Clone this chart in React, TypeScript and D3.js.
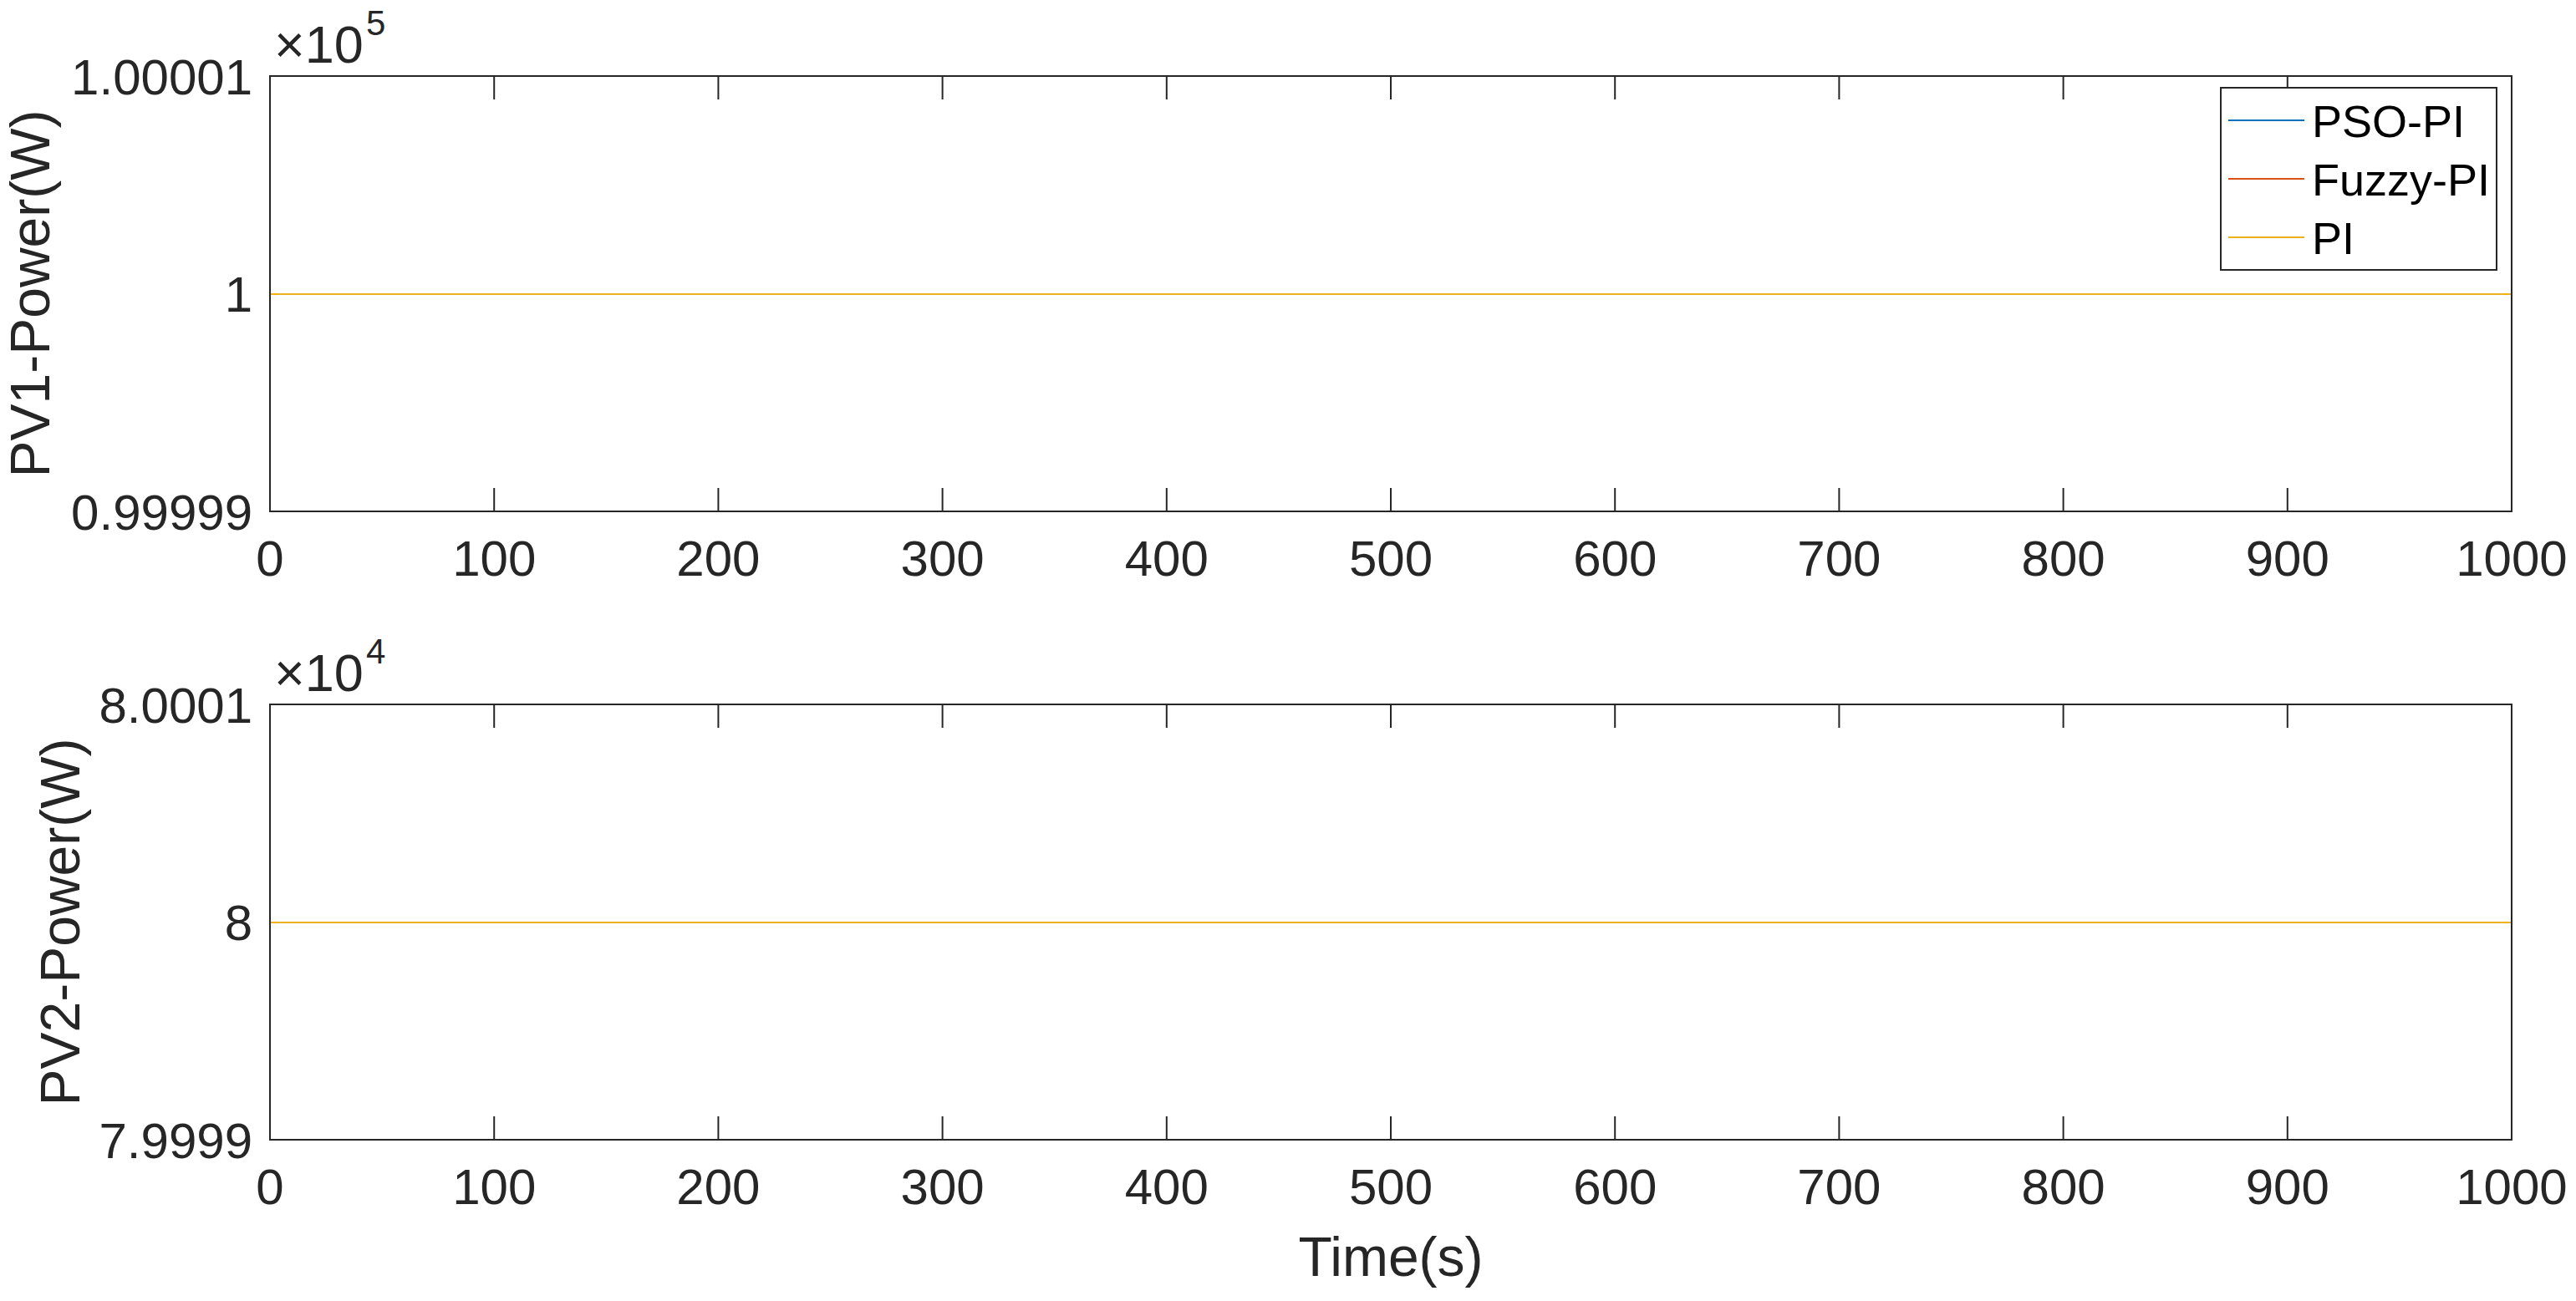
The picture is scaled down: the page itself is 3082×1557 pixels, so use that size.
import React from "react";
import * as d3 from "d3";

const timeS = [0, 1000];
const pv1PsoPi = [100000, 100000];
const pv1FuzzyPi = [100000, 100000];
const pv1Pi = [100000, 100000];
const pv2PsoPi = [80000, 80000];
const pv2FuzzyPi = [80000, 80000];
const pv2Pi = [80000, 80000];

const xTicks = [0, 100, 200, 300, 400, 500, 600, 700, 800, 900, 1000];
const pv1YTicks = [99999, 100000, 100001];
const pv1YTickLabels = ["0.99999", "1", "1.00001"];
const pv2YTicks = [79999, 80000, 80001];
const pv2YTickLabels = ["7.9999", "8", "8.0001"];

const seriesNames = ["PSO-PI", "Fuzzy-PI", "PI"];
const seriesColors = ["#0072BD", "#D95319", "#EDB120"];

const W = 3082;
const H = 1557;
const LEFT = 323;
const RIGHT = 3005;
const AX = "#262626";
const FONT = "'Liberation Sans', Arial, Helvetica, sans-serif";
const TICK_FS = 60;
const LABEL_FS = 66;
const TICK_LEN = 28;

type PanelProps = {
  top: number;
  bottom: number;
  yDomain: [number, number];
  yTicks: number[];
  yTickLabels: string[];
  series: number[][];
  ylabel: string;
  ylabelX: number;
  exponent: string;
  legend?: boolean;
};

function Panel(p: PanelProps) {
  const x = d3.scaleLinear().domain([0, 1000]).range([LEFT, RIGHT]);
  const y = d3.scaleLinear().domain(p.yDomain).range([p.bottom, p.top]);
  const line = d3
    .line<[number, number]>()
    .x((d) => x(d[0]))
    .y((d) => y(d[1]));
  const midY = (p.top + p.bottom) / 2;
  return (
    <g>
      {/* x ticks */}
      {xTicks.map((t) => (
        <g key={"xt" + t}>
          <line x1={x(t)} x2={x(t)} y1={p.bottom} y2={p.bottom - TICK_LEN} stroke={AX} strokeWidth={2} />
          <line x1={x(t)} x2={x(t)} y1={p.top} y2={p.top + TICK_LEN} stroke={AX} strokeWidth={2} />
          <text
            x={x(t)}
            y={p.bottom + 77}
            textAnchor="middle"
            fontSize={TICK_FS}
            fontFamily={FONT}
            fill={AX}
          >
            {t}
          </text>
        </g>
      ))}
      {/* y ticks */}
      {p.yTicks.map((t, i) => (
        <g key={"yt" + t}>
          <line x1={LEFT} x2={LEFT + TICK_LEN} y1={y(t)} y2={y(t)} stroke={AX} strokeWidth={2} shapeRendering="crispEdges" />
          <line x1={RIGHT} x2={RIGHT - TICK_LEN} y1={y(t)} y2={y(t)} stroke={AX} strokeWidth={2} shapeRendering="crispEdges" />
          <text
            x={302}
            y={y(t) + 21.5}
            textAnchor="end"
            fontSize={TICK_FS}
            fontFamily={FONT}
            fill={AX}
          >
            {p.yTickLabels[i]}
          </text>
        </g>
      ))}
      {p.series.map((s, i) => (
        <path
          key={"o" + i}
          d={line(timeS.map((t, j) => [t, s[j]] as [number, number])) || ""}
          fill="none"
          stroke={seriesColors[i]}
          strokeWidth={2}
          shapeRendering="crispEdges"
        />
      ))}
      <rect
        x={LEFT}
        y={p.top}
        width={RIGHT - LEFT}
        height={p.bottom - p.top}
        fill="none"
        stroke={AX}
        strokeWidth={2}
      />
      {/* exponent */}
      <text x={328} y={p.top - 16} fontSize={63} fontFamily={FONT} fill={AX}>
        <tspan>×10</tspan>
        <tspan dx={3} dy={-33} fontSize={42}>
          {p.exponent}
        </tspan>
      </text>
      {/* y label */}
      <text
        transform={`translate(${p.ylabelX},${midY}) rotate(-90)`}
        textAnchor="middle"
        fontSize={LABEL_FS}
        fontFamily={FONT}
        fill={AX}
      >
        {p.ylabel}
      </text>
      {p.legend && (
        <g>
          <rect x={2657} y={105} width={330} height={218} fill="#ffffff" stroke={AX} strokeWidth={2} />
          {seriesNames.map((n, i) => (
            <g key={n}>
              <line
                x1={2666}
                x2={2757}
                y1={144 + i * 70}
                y2={144 + i * 70}
                stroke={seriesColors[i]}
                strokeWidth={2}
              />
              <text x={2766} y={144 + i * 70 + 20} fontSize={54} fontFamily={FONT} fill="#000000">
                {n}
              </text>
            </g>
          ))}
        </g>
      )}
    </g>
  );
}

export default function App() {
  return (
    <svg
      width={W}
      height={H}
      viewBox={`0 0 ${W} ${H}`}
      style={{ position: "absolute", left: 0, top: 0, display: "block", background: "#ffffff" }}
    >
      <rect x={0} y={0} width={W} height={H} fill="#ffffff" />
      <Panel
        top={91}
        bottom={612}
        yDomain={[99999, 100001]}
        yTicks={pv1YTicks}
        yTickLabels={pv1YTickLabels}
        series={[pv1PsoPi, pv1FuzzyPi, pv1Pi]}
        ylabel="PV1-Power(W)"
        ylabelX={59}
        exponent="5"
        legend
      />
      <Panel
        top={843}
        bottom={1364}
        yDomain={[79999, 80001]}
        yTicks={pv2YTicks}
        yTickLabels={pv2YTickLabels}
        series={[pv2PsoPi, pv2FuzzyPi, pv2Pi]}
        ylabel="PV2-Power(W)"
        ylabelX={95}
        exponent="4"
      />
      <text x={1664} y={1527} textAnchor="middle" fontSize={LABEL_FS} fontFamily={FONT} fill={AX}>
        Time(s)
      </text>
    </svg>
  );
}
